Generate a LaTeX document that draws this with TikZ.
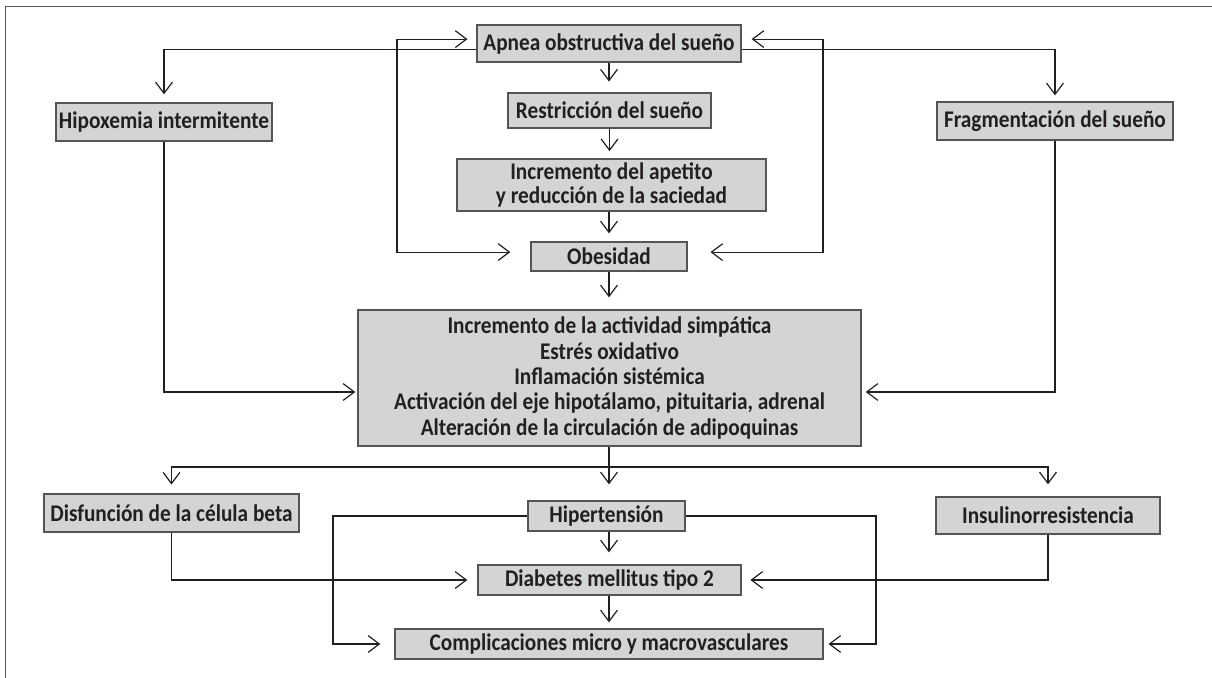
\documentclass[tikz,border=0pt]{standalone}
\usepackage{fontspec}
\setmainfont{Carlito}[FakeStretch=0.89]
\usepackage{tikz}
\usetikzlibrary{arrows.meta}
\definecolor{boxgray}{RGB}{211,212,214}
\definecolor{edgegray}{RGB}{85,85,85}
\definecolor{inkblack}{RGB}{35,31,32}
\begin{document}
\begin{tikzpicture}[
    x=0.025cm,y=-0.025cm,
    box/.style={rectangle,draw=edgegray,line width=0.9pt,fill=boxgray,
                text=inkblack,align=center,inner sep=0pt,
                font=\bfseries\fontsize{17}{17.2}\selectfont},
    link/.style={draw=inkblack,line width=0.85pt},
    arr/.style={link,-{Straight Barb[length=0.28cm,width=0.42cm]},shorten >=0.22cm},
    both/.style={link,{Straight Barb[length=0.28cm,width=0.42cm]}-{Straight Barb[length=0.28cm,width=0.42cm]}}
  ]
    \useasboundingbox (0,0) rectangle (1212,678);
    % frame
    \draw[edgegray,line width=1.4pt] (5.5,678) -- (5.5,6.5) -- (1212,6.5);

    % upper column
    \node[box,minimum width=6.6cm,minimum height=0.925cm] (apnea) at (609,43.5) {Apnea obstructiva del sueño};
    \node[box,minimum width=5.075cm,minimum height=0.875cm] (restr) at (609.5,110.5) {Restricción del sueño};
    \node[box,minimum width=7.725cm,minimum height=1.3cm] (apet) at (611.5,185) {Incremento del apetito\\y reducción de la saciedad};
    \node[box,minimum width=3.9cm,minimum height=0.725cm] (obes) at (609,256.5) {Obesidad};
    \node[box,minimum width=5.4cm,minimum height=0.95cm] (hipox) at (164,122) {Hipoxemia intermitente};
    \node[box,minimum width=5.9cm,minimum height=0.95cm] (frag) at (1055,121) {Fragmentación del sueño};

    % mechanisms
    \node[box,minimum width=12.575cm,minimum height=3.4cm,
          font=\bfseries\fontsize{17}{18}\selectfont] (mecan) at (609.5,378)
      {Incremento de la actividad simpática\\Estrés oxidativo\\Inflamación sistémica\\
       Activación del eje hipotálamo, pituitaria, adrenal\\Alteración de la circulación de adipoquinas};

    % lower part
    \node[box,minimum width=6.375cm,minimum height=0.95cm] (disf) at (171.5,513) {Disfunción de la célula beta};
    \node[box,minimum width=3.925cm,minimum height=0.75cm] (hipert) at (606.5,516) {Hipertensión};
    \node[box,minimum width=5.6cm,minimum height=0.925cm] (insul) at (1048,515.5) {Insulinorresistencia};
    \node[box,minimum width=6.575cm,minimum height=0.75cm] (diab) at (609.5,580) {Diabetes mellitus tipo 2};
    \node[box,minimum width=10.7cm,minimum height=0.75cm] (compl) at (609,644) {Complicaciones micro y macrovasculares};

    \coordinate (loopL) at (397,0);
    \coordinate (loopR) at (823,0);
    \coordinate (split) at (609,467);
    \coordinate (sideL) at (333,0);
    \coordinate (sideR) at (876,0);

    % column arrows
    \draw[arr,shorten >=0.27cm] (apnea.south) -- (apnea.south |- restr.north);
    \draw[arr,shorten >=0.18cm] (restr.south) -- (restr.south |- apet.north);
    \draw[arr,shorten >=0.2cm] (obes.north |- apet.south) -- (obes.north);
    \draw[arr,shorten >=0.3cm] (obes.south) -- (obes.south |- mecan.north);

    % apnea <-> obesidad
    \draw[both,shorten <=0.22cm,shorten >=0.5cm] ([yshift=0.11cm]apnea.west) -| ([yshift=0.11cm]loopL |- obes.west) -- ([yshift=0.11cm]obes.west);
    \draw[both,shorten <=0.25cm,shorten >=0.57cm] ([yshift=0.11cm]apnea.east) -| ([yshift=0.11cm]loopR |- obes.east) -- ([yshift=0.11cm]obes.east);

    % side branches
    \draw[arr,shorten >=0.2cm] ([yshift=-0.14cm]apnea.west) -| (hipox.north);
    \draw[arr,shorten >=0.15cm] ([yshift=-0.14cm]apnea.east) -| (frag.north);
    \draw[arr,shorten >=0.05cm] (hipox.south) |- ([yshift=-0.35cm]mecan.west);
    \draw[arr,shorten >=0.1cm] (frag.south) |- ([yshift=-0.35cm]mecan.east);

    % split below
    \draw[link] (mecan.south -| split) -- (split);
    \draw[arr] (split) -| (disf.north);
    \draw[arr,shorten >=0.4cm] (split) -- (split |- hipert.north);
    \draw[arr,shorten >=0.3cm] (split) -| (insul.north);

    \draw[arr,shorten >=0.3cm] (split |- hipert.south) -- (split |- diab.north);
    \draw[arr,shorten >=0.15cm] (split |- diab.south) -- (split |- compl.north);
    \draw[arr,shorten >=0.25cm] (disf.south) |- (diab.west);
    \draw[arr] (insul.south) |- (diab.east);
    \draw[arr,shorten >=0.35cm] (hipert.west) -| (sideL |- compl.west) -- (compl.west);
    \draw[arr,shorten >=0.12cm] (hipert.east) -| (sideR |- compl.east) -- (compl.east);
  \end{tikzpicture}
\end{document}
